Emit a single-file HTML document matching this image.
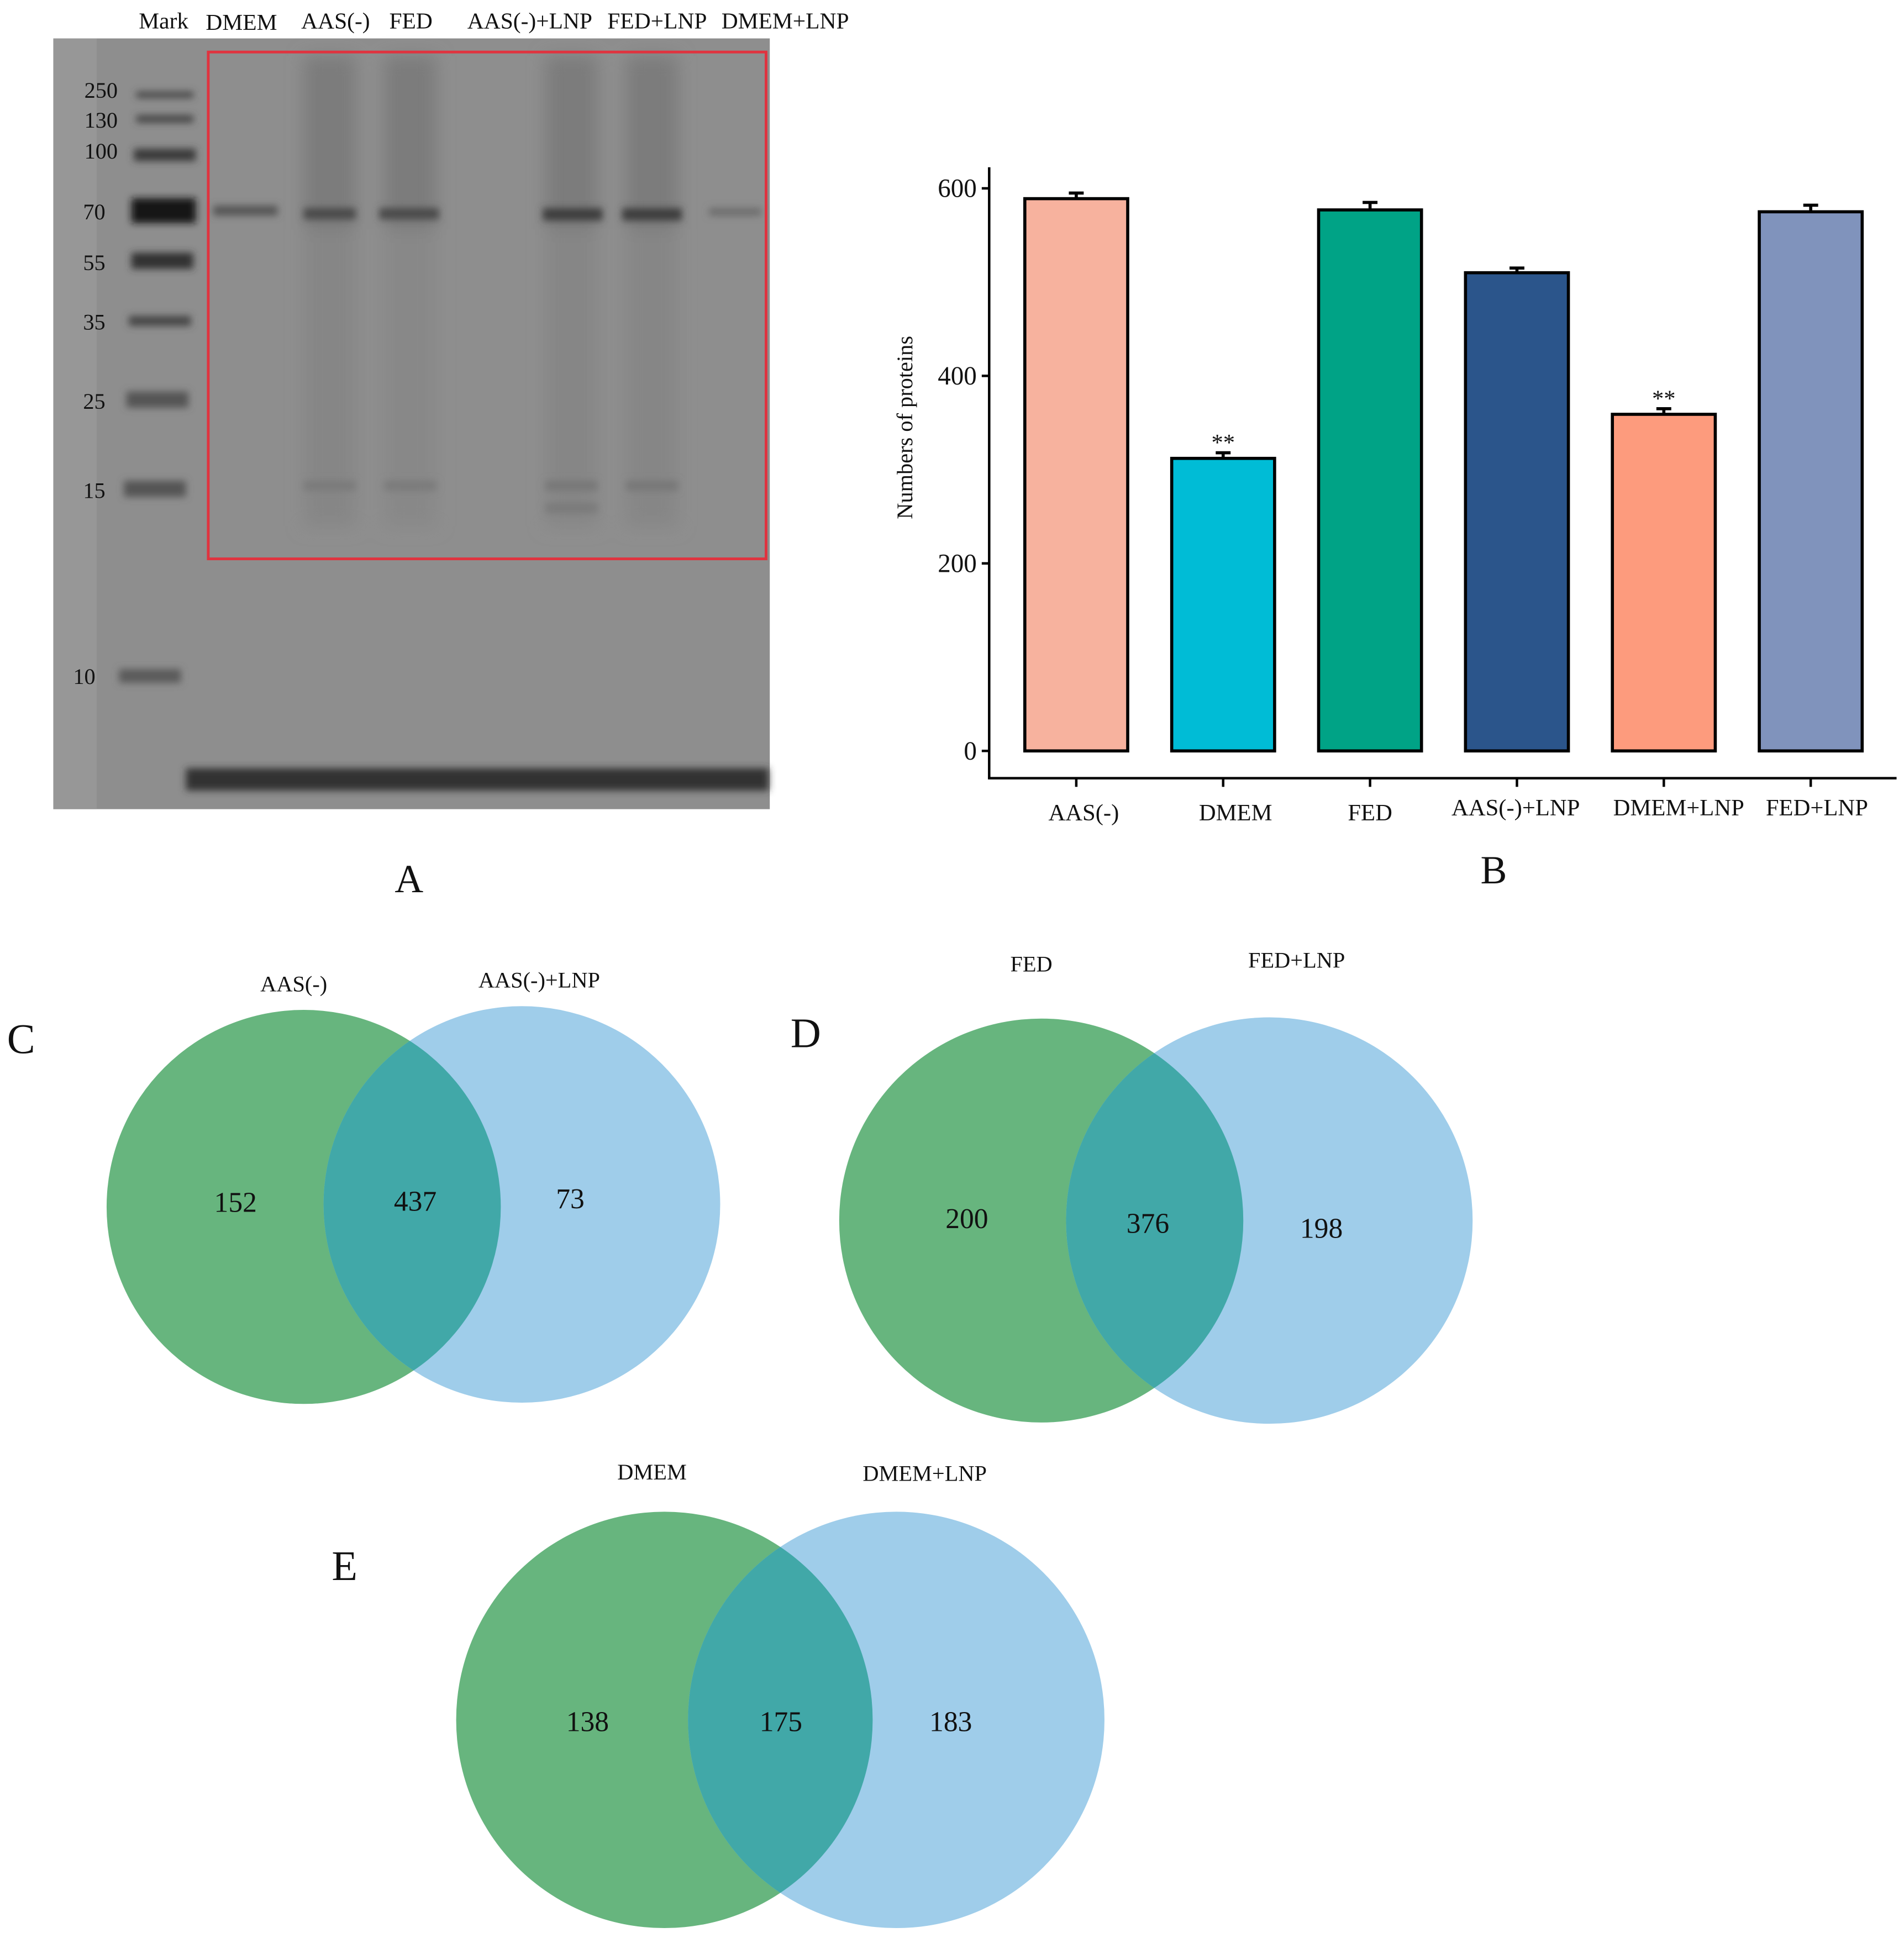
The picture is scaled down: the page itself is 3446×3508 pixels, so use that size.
<!DOCTYPE html>
<html><head><meta charset="utf-8"><style>
html,body{margin:0;padding:0;background:#fff;}
svg{display:block;}
text{font-family:"Liberation Serif",serif;fill:#111;}
</style></head><body>
<svg id="fig" width="3446" height="3508" viewBox="0 0 1536 1564" preserveAspectRatio="none" xmlns="http://www.w3.org/2000/svg">
<defs>
<filter id="blur" x="-20%" y="-50%" width="140%" height="200%"><feGaussianBlur stdDeviation="3"/></filter>
<filter id="blur3" x="-30%" y="-30%" width="160%" height="160%"><feGaussianBlur stdDeviation="7"/></filter>
<clipPath id="clipC"><circle cx="245" cy="974" r="159"/></clipPath>
<clipPath id="clipD"><circle cx="840" cy="985" r="163"/></clipPath>
<clipPath id="clipE"><circle cx="536" cy="1388" r="168"/></clipPath>
</defs>

<!-- Panel A: gel -->
<g>
<rect x="43" y="31" width="578" height="622" fill="#8e8e8e"/>
<rect x="43" y="31" width="35" height="622" fill="#979797"/>
<g filter="url(#blur3)">
<rect x="245" y="45" width="42" height="140" fill="#7b7b7b"/>
<rect x="310" y="45" width="42" height="140" fill="#7b7b7b"/>
<rect x="440" y="45" width="42" height="140" fill="#7b7b7b"/>
<rect x="505" y="45" width="42" height="140" fill="#7b7b7b"/>
<rect x="245" y="185" width="42" height="240" fill="#868686"/>
<rect x="310" y="185" width="42" height="240" fill="#888"/>
<rect x="440" y="185" width="42" height="240" fill="#868686"/>
<rect x="505" y="185" width="42" height="240" fill="#868686"/>
</g>
<g filter="url(#blur)">
<rect x="110" y="74" width="46" height="5" fill="#444"/>
<rect x="110" y="93" width="46" height="6" fill="#444"/>
<rect x="108" y="120" width="50" height="10" fill="#3a3a3a"/>
<rect x="106" y="160" width="52" height="20" fill="#151515"/>
<rect x="106" y="204" width="50" height="13" fill="#333"/>
<rect x="104" y="255" width="50" height="8" fill="#444"/>
<rect x="102" y="316" width="50" height="13" fill="#555"/>
<rect x="100" y="388" width="50" height="13" fill="#555"/>
<rect x="96" y="540" width="50" height="11" fill="#5a5a5a"/>
</g>
<g filter="url(#blur)">
<rect x="172" y="166" width="52" height="8" fill="#555"/>
<rect x="245" y="168" width="42" height="9" fill="#4a4a4a"/>
<rect x="306" y="168" width="48" height="9" fill="#4a4a4a"/>
<rect x="438" y="168" width="48" height="10" fill="#3e3e3e"/>
<rect x="502" y="168" width="48" height="10" fill="#3e3e3e"/>
<rect x="572" y="168" width="42" height="6" fill="#6a6a6a"/>
<rect x="245" y="388" width="42" height="8" fill="#7a7a7a"/>
<rect x="310" y="388" width="42" height="8" fill="#7a7a7a"/>
<rect x="440" y="388" width="42" height="8" fill="#777"/>
<rect x="505" y="388" width="42" height="8" fill="#777"/>
<rect x="440" y="406" width="42" height="8" fill="#7a7a7a"/>
<rect x="150" y="620" width="470" height="18" fill="#333"/>
</g>
<rect x="168" y="42" width="450" height="409" fill="none" stroke="#e0333f" stroke-width="2.2"/>
<g font-size="18" text-anchor="end">
<text x="95" y="79">250</text><text x="95" y="103">130</text><text x="95" y="128">100</text>
<text x="85" y="177">70</text><text x="85" y="218">55</text><text x="85" y="266">35</text>
<text x="85" y="330">25</text><text x="85" y="402">15</text><text x="77" y="552">10</text>
</g>
<g font-size="18.5">
<text x="112" y="23">Mark</text><text x="166" y="24">DMEM</text><text x="243" y="23">AAS(-)</text>
<text x="314" y="23">FED</text><text x="377" y="23">AAS(-)+LNP</text><text x="490" y="23">FED+LNP</text>
<text x="582" y="23">DMEM+LNP</text>
</g>
<text x="330" y="720" font-size="32" text-anchor="middle">A</text>
</g>

<!-- Panel B: bar chart -->
<g id="barChart">
<line x1="798" y1="135" x2="798" y2="628" stroke="#000" stroke-width="2"/>
<line x1="797" y1="628" x2="1530" y2="628" stroke="#000" stroke-width="2"/>
<text transform="translate(736,345) rotate(-90)" font-size="18" text-anchor="middle">Numbers of proteins</text>
<text x="1205" y="713" font-size="32" text-anchor="middle">B</text>
</g>

<!-- Venn C -->
<g>
<circle cx="245" cy="974" r="159" fill="#67b57e"/>
<circle cx="421" cy="972" r="160" fill="#9fcdea"/>
<circle cx="421" cy="972" r="160" fill="#41a8a8" clip-path="url(#clipC)"/>
<text x="237" y="800" font-size="18" text-anchor="middle">AAS(-)</text>
<text x="435" y="797" font-size="18" text-anchor="middle">AAS(-)+LNP</text>
<text x="190" y="978" font-size="23" text-anchor="middle">152</text>
<text x="335" y="977" font-size="23" text-anchor="middle">437</text>
<text x="460" y="975" font-size="23" text-anchor="middle">73</text>
<text x="17" y="850" font-size="34" text-anchor="middle">C</text>
</g>

<!-- Venn D -->
<g>
<circle cx="840" cy="985" r="163" fill="#67b57e"/>
<circle cx="1024" cy="985" r="164" fill="#9fcdea"/>
<circle cx="1024" cy="985" r="164" fill="#41a8a8" clip-path="url(#clipD)"/>
<text x="832" y="784" font-size="18" text-anchor="middle">FED</text>
<text x="1046" y="781" font-size="18" text-anchor="middle">FED+LNP</text>
<text x="780" y="991" font-size="23" text-anchor="middle">200</text>
<text x="926" y="995" font-size="23" text-anchor="middle">376</text>
<text x="1066" y="999" font-size="23" text-anchor="middle">198</text>
<text x="650" y="845" font-size="34" text-anchor="middle">D</text>
</g>

<!-- Venn E -->
<g>
<circle cx="536" cy="1388" r="168" fill="#67b57e"/>
<circle cx="723" cy="1388" r="168" fill="#9fcdea"/>
<circle cx="723" cy="1388" r="168" fill="#41a8a8" clip-path="url(#clipE)"/>
<text x="526" y="1194" font-size="18" text-anchor="middle">DMEM</text>
<text x="746" y="1195" font-size="18" text-anchor="middle">DMEM+LNP</text>
<text x="474" y="1397" font-size="23" text-anchor="middle">138</text>
<text x="630" y="1397" font-size="23" text-anchor="middle">175</text>
<text x="767" y="1397" font-size="23" text-anchor="middle">183</text>
<text x="278" y="1275" font-size="34" text-anchor="middle">E</text>
</g>
</svg>
<script>
const categories = ["AAS(-)","DMEM","FED","AAS(-)+LNP","DMEM+LNP","FED+LNP"];
const values = [589, 312, 577, 510, 359, 575];
const errors = [6, 6, 8, 5, 6, 7];
const significance = ["", "**", "", "", "**", ""];
const colors = ["#f7b29e","#00bcd6","#00a386","#2b558b","#fd9b7d","#8093bc"];
const yTicks = [0, 200, 400, 600];

const NS = "http://www.w3.org/2000/svg";
const chart = document.getElementById("barChart");
const y0 = 606, yTop = 152;
function yScale(v){ return y0 - (v/600)*(y0-yTop); }
const bandStart = 809, bandStep = 118.5, barW = 83;
function xCenter(i){ return bandStart + bandStep*i + bandStep/2; }
function mk(tag, attrs){ const e=document.createElementNS(NS,tag); for(const k in attrs) e.setAttribute(k, attrs[k]); chart.appendChild(e); return e; }

yTicks.forEach(t=>{
  const y=yScale(t);
  const tk=mk("line",{x1:792,y1:y,x2:798,y2:y,stroke:"#000","stroke-width":2});
  
  
  const lb=mk("text",{x:788,y:y+7,"font-size":21,"text-anchor":"end"});
  lb.textContent=t;
  
  
});

categories.forEach((c,i)=>{
  const cx=xCenter(i), v=values[i], yv=yScale(v);
  const eTop=yScale(v+errors[i]);
  const el=mk("line",{x1:cx,y1:yv,x2:cx,y2:eTop,stroke:"#000","stroke-width":2.5});
  
  
  const cap=mk("line",{x1:cx-6,y1:eTop,x2:cx+6,y2:eTop,stroke:"#000","stroke-width":2.5});
  
  
  const r=mk("rect",{x:cx-barW/2,y:yv,width:barW,height:y0-yv,fill:colors[i],stroke:"#000","stroke-width":2.5});
  
  
  if(significance[i]){
    const s=mk("text",{x:cx,y:eTop-2,"font-size":19,"text-anchor":"middle"});
    s.textContent=significance[i];
    
    
  }
  const xt=mk("line",{x1:cx,y1:628,x2:cx,y2:635,stroke:"#000","stroke-width":2});
  
  
  const lb=mk("text",{x:cx+(i===0?6:i===1?10:i===5?5:i===3?-1:i===4?12:0),y:(i>=3?658:662),"font-size":19,"text-anchor":"middle"});
  lb.textContent=c;
  
  
});
</script>
</body></html>
